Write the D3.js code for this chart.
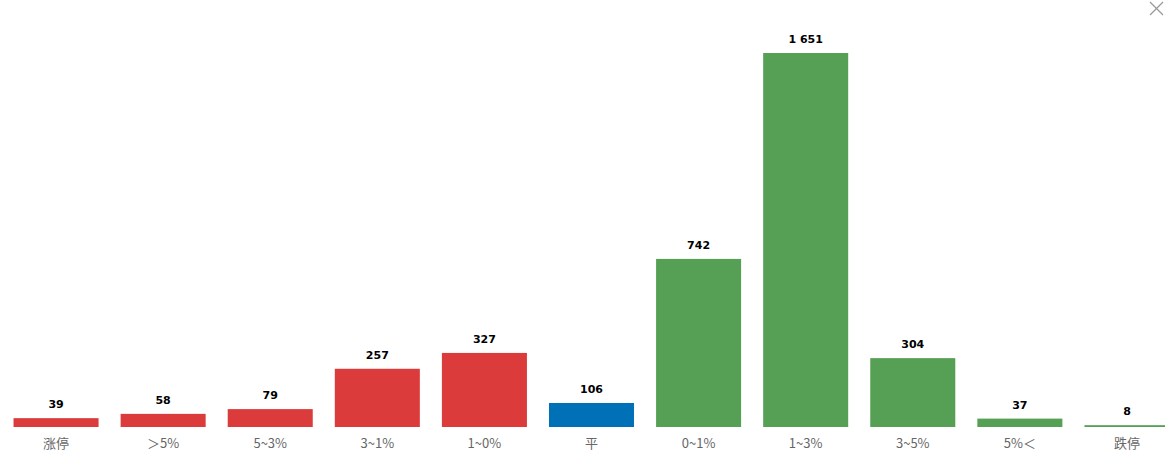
<!DOCTYPE html>
<html><head><meta charset="utf-8">
<script src="https://cdn.jsdelivr.net/npm/d3@7"></script>
<style>html,body{margin:0;padding:0;background:#fff;overflow:hidden}</style>
</head><body><svg id="c" width="1165" height="474"></svg>
<script>
const categories = ["涨停", "＞5%", "5~3%", "3~1%", "1~0%", "平", "0~1%", "1~3%", "3~5%", "5%＜", "跌停"];
const values = [39, 58, 79, 257, 327, 106, 742, 1651, 304, 37, 8];
const groups = ["up","up","up","up","up","flat","down","down","down","down","down"];
const colors = {up:"#db3b3a", flat:"#0071b7", down:"#55a055"};

const svg = d3.select("#c");
const x = d3.scaleBand().domain(categories).range([2.5, 1180.5]).paddingInner(0.206).paddingOuter(0.103);
const y = d3.scaleLinear().domain([0, 1651]).range([427, 53]);

svg.selectAll("rect.bar").data(values).join("rect")
  .attr("class","bar")
  .attr("x",(d,i)=>x(categories[i]))
  .attr("width",x.bandwidth())
  .attr("y",d=>y(d))
  .attr("height",d=>Math.max(1, y(0)-y(d)))
  .attr("fill",(d,i)=>colors[groups[i]]);

const fmt = d => d3.format(",")(d).replace(/,/g," ");
svg.selectAll("text.val").data(values).join("text")
  .attr("class","val")
  .attr("x",(d,i)=>x(categories[i])+x.bandwidth()/2)
  .attr("y",d=>Math.min(y(d), y(0)-1)-10)
  .attr("text-anchor","middle")
  .attr("font-family","'DejaVu Sans', sans-serif")
  .attr("font-weight","bold")
  .attr("font-size",11)
  .attr("fill","#000")
  .text(fmt);

const xAxis = d3.axisBottom(x).tickSize(0).tickPadding(12);
const gx = svg.append("g").attr("transform","translate(0,427)").call(xAxis);
gx.select(".domain").remove();
gx.selectAll("text")
  .attr("font-family","'Noto Sans CJK SC','DejaVu Sans',sans-serif")
  .attr("font-size",13)
  .attr("fill","#666");

// close icon
const cl = svg.append("g").attr("stroke","#999").attr("stroke-width",1.3);
cl.append("line").attr("x1",1150).attr("y1",2).attr("x2",1163).attr("y2",15);
cl.append("line").attr("x1",1163).attr("y1",2).attr("x2",1150).attr("y2",15);
</script></body></html>
